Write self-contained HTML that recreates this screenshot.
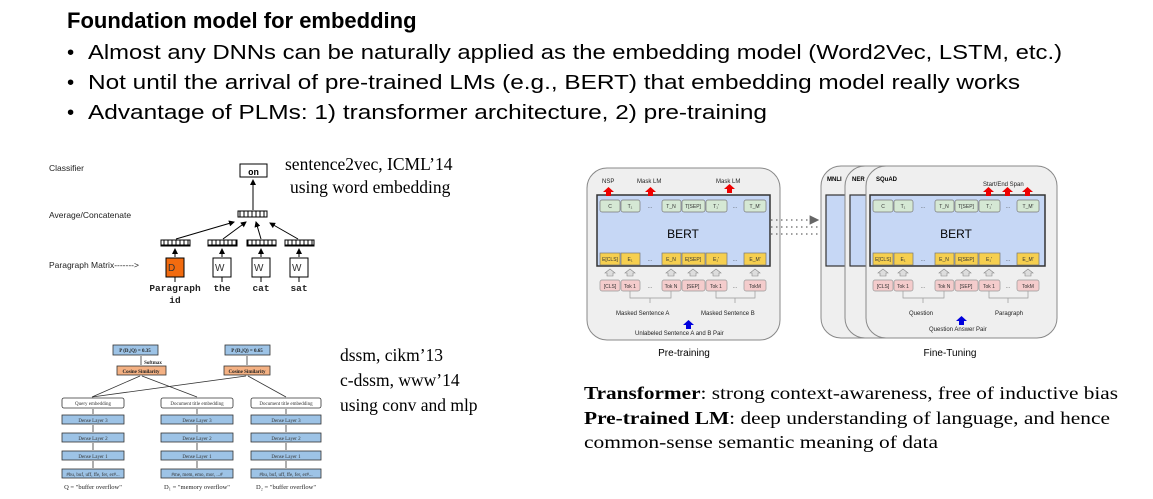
<!DOCTYPE html>
<html><head><meta charset="utf-8"><style>
body{margin:0;width:1153px;height:499px;background:#fff;overflow:hidden}
svg{display:block}
.s{font-family:"Liberation Sans",sans-serif}
.r{font-family:"Liberation Serif",serif}
.m{font-family:"Liberation Mono",monospace}
</style></head><body>
<svg width="1153" height="499" viewBox="0 0 1153 499" xmlns="http://www.w3.org/2000/svg">
<defs>
<marker id="a" markerWidth="6" markerHeight="6" refX="5" refY="3" orient="auto"><path d="M0,0L6,3L0,6z" fill="#000"/></marker>
<marker id="g" markerWidth="8" markerHeight="8" refX="7" refY="4" orient="auto"><path d="M0,0L8,4L0,8z" fill="#666"/></marker>
<pattern id="vec" width="4" height="7" patternUnits="userSpaceOnUse"><rect x="0" y="0" width="4" height="7" fill="#fff" stroke="#000" stroke-width="1"/></pattern>
</defs>
<!-- Title -->
<text x="67" y="28" class="s" font-size="22" font-weight="bold">Foundation model for embedding</text>
<g class="s" font-size="20.5" fill="#000">
<text x="67" y="59">•</text><text x="88" y="59" textLength="974" lengthAdjust="spacingAndGlyphs">Almost any DNNs can be naturally applied as the embedding model (Word2Vec, LSTM, etc.)</text>
<text x="67" y="89">•</text><text x="88" y="89" textLength="932" lengthAdjust="spacingAndGlyphs">Not until the arrival of pre-trained LMs (e.g., BERT) that embedding model really works</text>
<text x="67" y="119">•</text><text x="88" y="119" textLength="679" lengthAdjust="spacingAndGlyphs">Advantage of PLMs: 1) transformer architecture, 2) pre-training</text>
</g>

<!-- sentence2vec diagram -->
<g class="s" font-size="8.5" fill="#222">
<text x="49" y="171">Classifier</text>
<text x="49" y="218">Average/Concatenate</text>
<text x="49" y="268">Paragraph Matrix-------&gt;</text>
</g>
<rect x="240" y="164" width="27" height="13" fill="#fff" stroke="#000"/>
<text x="253.5" y="175" class="m" font-size="9" font-weight="bold" text-anchor="middle">on</text>
<rect x="238" y="211" width="29" height="6" fill="url(#vec)" stroke="#000"/>
<line x1="253" y1="210" x2="253" y2="180" stroke="#000" marker-end="url(#a)"/>
<rect x="161" y="240" width="29" height="6" fill="url(#vec)" stroke="#000"/>
<rect x="208" y="240" width="29" height="6" fill="url(#vec)" stroke="#000"/>
<rect x="247" y="240" width="29" height="6" fill="url(#vec)" stroke="#000"/>
<rect x="285" y="240" width="29" height="6" fill="url(#vec)" stroke="#000"/>
<line x1="176" y1="239" x2="234" y2="222" stroke="#000" marker-end="url(#a)"/>
<line x1="223" y1="239" x2="246" y2="222" stroke="#000" marker-end="url(#a)"/>
<line x1="261" y1="239" x2="256" y2="222" stroke="#000" marker-end="url(#a)"/>
<line x1="298" y1="239" x2="270" y2="223" stroke="#000" marker-end="url(#a)"/>
<line x1="175" y1="257" x2="175" y2="249" stroke="#000" marker-end="url(#a)"/>
<line x1="222" y1="257" x2="222" y2="249" stroke="#000" marker-end="url(#a)"/>
<line x1="261" y1="257" x2="261" y2="249" stroke="#000" marker-end="url(#a)"/>
<line x1="299" y1="257" x2="299" y2="249" stroke="#000" marker-end="url(#a)"/>
<rect x="166" y="258" width="18" height="19" fill="#f26b0f" stroke="#000"/>
<rect x="213" y="258" width="18" height="19" fill="#fff" stroke="#000"/>
<rect x="252" y="258" width="18" height="19" fill="#fff" stroke="#000"/>
<rect x="290" y="258" width="18" height="19" fill="#fff" stroke="#000"/>
<g class="s" font-size="10" fill="#333"><text x="168" y="271">D</text><text x="215" y="271">W</text><text x="254" y="271">W</text><text x="292" y="271">W</text></g>
<g stroke="#000"><line x1="175" y1="277" x2="175" y2="282"/><line x1="222" y1="277" x2="222" y2="282"/><line x1="261" y1="277" x2="261" y2="282"/><line x1="299" y1="277" x2="299" y2="282"/></g>
<g class="m" font-size="9.5" font-weight="bold" fill="#222" text-anchor="middle">
<text x="175" y="291">Paragraph</text><text x="175" y="303">id</text>
<text x="222" y="291">the</text><text x="261" y="291">cat</text><text x="299" y="291">sat</text>
</g>
<g class="r" font-size="17.5"><text x="285" y="170">sentence2vec, ICML’14</text><text x="290" y="193">using word embedding</text></g>

<!-- DSSM -->
<g stroke="#333" stroke-width="0.8" fill="none">
<line x1="92" y1="397" x2="140" y2="376"/><line x1="92" y1="397" x2="246" y2="376"/>
<line x1="197" y1="397" x2="142" y2="376"/><line x1="286" y1="397" x2="248" y2="376"/>
<line x1="141" y1="365" x2="141" y2="356"/><line x1="247" y1="365" x2="247" y2="356"/>
</g>
<g stroke="#333" stroke-width="0.8">
<rect x="113" y="345" width="45" height="10" fill="#9dc3e6"/>
<rect x="225" y="345" width="45" height="10" fill="#9dc3e6"/>
<rect x="117" y="366" width="49" height="9" fill="#f4b183"/>
<rect x="224" y="366" width="46" height="9" fill="#f4b183"/>
</g>
<g class="r" font-size="5" font-weight="bold" text-anchor="middle" fill="#222">
<text x="135" y="352">P (D₁|Q) = 0.35</text><text x="247" y="352">P (D₂|Q) = 0.65</text>
<text x="141" y="373">Cosine Similarity</text><text x="247" y="373">Cosine Similarity</text>
<text x="153" y="364">Softmax</text>
</g>
<g id="col" class="r" font-size="5" text-anchor="middle" fill="#333">
<g stroke="#333" stroke-width="0.8">
<rect x="62" y="398" width="62" height="10" fill="#fff" rx="2"/>
<rect x="62" y="415" width="62" height="9" fill="#9dc3e6"/>
<rect x="62" y="433" width="62" height="9" fill="#9dc3e6"/>
<rect x="62" y="451" width="62" height="9" fill="#9dc3e6"/>
<rect x="62" y="469" width="62" height="9" fill="#9dc3e6"/>
<line x1="93" y1="414" x2="93" y2="409"/><line x1="93" y1="432" x2="93" y2="425"/><line x1="93" y1="450" x2="93" y2="443"/><line x1="93" y1="468" x2="93" y2="461"/>
</g>
<text x="93" y="405">Query embedding</text><text x="93" y="422">Dense Layer 3</text><text x="93" y="440">Dense Layer 2</text><text x="93" y="458">Dense Layer 1</text><text x="93" y="476">#bu, buf, uff, ffe, fer, er#...</text>
</g>
<g class="r" font-size="5" text-anchor="middle" fill="#333">
<g stroke="#333" stroke-width="0.8">
<rect x="161" y="398" width="72" height="10" fill="#fff" rx="2"/>
<rect x="161" y="415" width="72" height="9" fill="#9dc3e6"/>
<rect x="161" y="433" width="72" height="9" fill="#9dc3e6"/>
<rect x="161" y="451" width="72" height="9" fill="#9dc3e6"/>
<rect x="161" y="469" width="72" height="9" fill="#9dc3e6"/>
<line x1="197" y1="414" x2="197" y2="409"/><line x1="197" y1="432" x2="197" y2="425"/><line x1="197" y1="450" x2="197" y2="443"/><line x1="197" y1="468" x2="197" y2="461"/>
</g>
<text x="197" y="405">Document title embedding</text><text x="197" y="422">Dense Layer 3</text><text x="197" y="440">Dense Layer 2</text><text x="197" y="458">Dense Layer 1</text><text x="197" y="476">#me, mem, emo, mor, ...#</text>
</g>
<g class="r" font-size="5" text-anchor="middle" fill="#333">
<g stroke="#333" stroke-width="0.8">
<rect x="251" y="398" width="70" height="10" fill="#fff" rx="2"/>
<rect x="251" y="415" width="70" height="9" fill="#9dc3e6"/>
<rect x="251" y="433" width="70" height="9" fill="#9dc3e6"/>
<rect x="251" y="451" width="70" height="9" fill="#9dc3e6"/>
<rect x="251" y="469" width="70" height="9" fill="#9dc3e6"/>
<line x1="286" y1="414" x2="286" y2="409"/><line x1="286" y1="432" x2="286" y2="425"/><line x1="286" y1="450" x2="286" y2="443"/><line x1="286" y1="468" x2="286" y2="461"/>
</g>
<text x="286" y="405">Document title embedding</text><text x="286" y="422">Dense Layer 3</text><text x="286" y="440">Dense Layer 2</text><text x="286" y="458">Dense Layer 1</text><text x="286" y="476">#bu, buf, uff, ffe, fer, er#...</text>
</g>
<g class="r" font-size="6.5" fill="#222" text-anchor="middle">
<text x="93" y="489">Q = "buffer overflow"</text><text x="197" y="489">D₁ = "memory overflow"</text><text x="286" y="489">D₂ = "buffer overflow"</text>
</g>
<g class="r" font-size="17.5"><text x="340" y="361">dssm, cikm’13</text><text x="340" y="386">c-dssm, www’14</text><text x="340" y="411">using conv and mlp</text></g>

<!-- BERT pretraining -->
<rect x="587" y="168" width="193" height="172" rx="20" fill="#efefef" stroke="#888"/>
<rect x="597" y="195" width="173" height="71" fill="#c6d7f5" stroke="#333" stroke-width="1.5"/>
<text x="683" y="238" class="s" font-size="12" text-anchor="middle">BERT</text>
<g fill="#d5e8d4" stroke="#777" stroke-width="0.7">
<rect x="600" y="200" width="20" height="12" rx="2"/><rect x="621" y="200" width="19" height="12" rx="2"/><rect x="662" y="200" width="19" height="12" rx="2"/><rect x="682" y="200" width="23" height="12" rx="2"/><rect x="706" y="200" width="21" height="12" rx="2"/><rect x="744" y="200" width="22" height="12" rx="2"/>
</g>
<g fill="#f6cf4f" stroke="#777" stroke-width="0.7">
<rect x="600" y="253" width="20" height="12"/><rect x="621" y="253" width="19" height="12"/><rect x="662" y="253" width="19" height="12"/><rect x="682" y="253" width="23" height="12"/><rect x="706" y="253" width="21" height="12"/><rect x="744" y="253" width="22" height="12"/>
</g>
<g fill="#f4cccc" stroke="#999" stroke-width="0.7">
<rect x="600" y="280" width="20" height="11" rx="2"/><rect x="621" y="280" width="19" height="11" rx="2"/><rect x="662" y="280" width="19" height="11" rx="2"/><rect x="682" y="280" width="23" height="11" rx="2"/><rect x="706" y="280" width="21" height="11" rx="2"/><rect x="744" y="280" width="22" height="11" rx="2"/>
</g>
<g class="s" font-size="5" text-anchor="middle" fill="#333">
<text x="610" y="208">C</text><text x="630" y="208">T₁</text><text x="650" y="208">...</text><text x="671" y="208">T_N</text><text x="693" y="208">T[SEP]</text><text x="716" y="208">T₁'</text><text x="735" y="208">...</text><text x="755" y="208">T_M'</text>
<text x="610" y="261">E[CLS]</text><text x="630" y="261">E₁</text><text x="650" y="261">...</text><text x="671" y="261">E_N</text><text x="693" y="261">E[SEP]</text><text x="716" y="261">E₁'</text><text x="735" y="261">...</text><text x="755" y="261">E_M'</text>
<text x="610" y="288">[CLS]</text><text x="630" y="288">Tok 1</text><text x="650" y="288">...</text><text x="671" y="288">Tok N</text><text x="693" y="288">[SEP]</text><text x="716" y="288">Tok 1</text><text x="735" y="288">...</text><text x="755" y="288">TokM</text>
</g>
<g fill="#ddd" stroke="#888" stroke-width="0.6">
<path d="M607,276h6v-3h2l-5,-4l-5,4h2z"/><path d="M627,276h6v-3h2l-5,-4l-5,4h2z"/><path d="M668,276h6v-3h2l-5,-4l-5,4h2z"/><path d="M690,276h6v-3h2l-5,-4l-5,4h2z"/><path d="M713,276h6v-3h2l-5,-4l-5,4h2z"/><path d="M752,276h6v-3h2l-5,-4l-5,4h2z"/>
</g>
<g stroke="#999" stroke-width="0.7" fill="none"><path d="M630,291v7h41v-7M650,298v5M716,291v7h39v-7M735,298v5"/></g>
<g fill="#e00"><path d="M606,196h5v-4h3l-5.5,-5l-5.5,5h3z"/><path d="M648,196h5v-4h3l-5.5,-5l-5.5,5h3z"/><path d="M727,193h5v-4h3l-5.5,-5l-5.5,5h3z"/></g>
<path d="M686,329h5v-4h3l-5.5,-5l-5.5,5h3z" fill="#00d"/>
<g class="s" font-size="6" fill="#222">
<text x="602" y="183">NSP</text><text x="637" y="183">Mask LM</text><text x="716" y="183">Mask LM</text>
<text x="616" y="315">Masked Sentence A</text><text x="701" y="315">Masked Sentence B</text>
<text x="635" y="335">Unlabeled Sentence A and B Pair</text>
</g>
<text x="684" y="356" class="s" font-size="10" text-anchor="middle">Pre-training</text>

<!-- dotted -->
<g stroke="#666" stroke-width="1.2" stroke-dasharray="1.5,3.5" fill="none">
<line x1="771" y1="220" x2="818" y2="220" marker-end="url(#g)"/>
<line x1="771" y1="227" x2="843" y2="227" marker-end="url(#g)"/>
<line x1="771" y1="234" x2="867" y2="234" marker-end="url(#g)"/>
</g>

<!-- Fine tuning -->
<rect x="821" y="166" width="150" height="172" rx="20" fill="#efefef" stroke="#888"/>
<rect x="826" y="195" width="40" height="71" fill="#c6d7f5" stroke="#333" stroke-width="1.2"/>
<rect x="845" y="166" width="150" height="172" rx="20" fill="#efefef" stroke="#888"/>
<rect x="850" y="195" width="40" height="71" fill="#c6d7f5" stroke="#333" stroke-width="1.2"/>
<rect x="866" y="166" width="191" height="172" rx="20" fill="#efefef" stroke="#888"/>
<g class="s" font-size="6" font-weight="bold"><text x="827" y="181">MNLI</text><text x="852" y="181">NER</text><text x="876" y="181">SQuAD</text></g>
<g transform="translate(273,0)">
<rect x="597" y="195" width="175" height="71" fill="#c6d7f5" stroke="#333" stroke-width="1.5"/>
<text x="683" y="238" class="s" font-size="12" text-anchor="middle">BERT</text>
<g fill="#d5e8d4" stroke="#777" stroke-width="0.7">
<rect x="600" y="200" width="20" height="12" rx="2"/><rect x="621" y="200" width="19" height="12" rx="2"/><rect x="662" y="200" width="19" height="12" rx="2"/><rect x="682" y="200" width="23" height="12" rx="2"/><rect x="706" y="200" width="21" height="12" rx="2"/><rect x="744" y="200" width="22" height="12" rx="2"/>
</g>
<g fill="#f6cf4f" stroke="#777" stroke-width="0.7">
<rect x="600" y="253" width="20" height="12"/><rect x="621" y="253" width="19" height="12"/><rect x="662" y="253" width="19" height="12"/><rect x="682" y="253" width="23" height="12"/><rect x="706" y="253" width="21" height="12"/><rect x="744" y="253" width="22" height="12"/>
</g>
<g fill="#f4cccc" stroke="#999" stroke-width="0.7">
<rect x="600" y="280" width="20" height="11" rx="2"/><rect x="621" y="280" width="19" height="11" rx="2"/><rect x="662" y="280" width="19" height="11" rx="2"/><rect x="682" y="280" width="23" height="11" rx="2"/><rect x="706" y="280" width="21" height="11" rx="2"/><rect x="744" y="280" width="22" height="11" rx="2"/>
</g>
<g class="s" font-size="5" text-anchor="middle" fill="#333">
<text x="610" y="208">C</text><text x="630" y="208">T₁</text><text x="650" y="208">...</text><text x="671" y="208">T_N</text><text x="693" y="208">T[SEP]</text><text x="716" y="208">T₁'</text><text x="735" y="208">...</text><text x="755" y="208">T_M'</text>
<text x="610" y="261">E[CLS]</text><text x="630" y="261">E₁</text><text x="650" y="261">...</text><text x="671" y="261">E_N</text><text x="693" y="261">E[SEP]</text><text x="716" y="261">E₁'</text><text x="735" y="261">...</text><text x="755" y="261">E_M'</text>
<text x="610" y="288">[CLS]</text><text x="630" y="288">Tok 1</text><text x="650" y="288">...</text><text x="671" y="288">Tok N</text><text x="693" y="288">[SEP]</text><text x="716" y="288">Tok 1</text><text x="735" y="288">...</text><text x="755" y="288">TokM</text>
</g>
<g fill="#ddd" stroke="#888" stroke-width="0.6">
<path d="M607,276h6v-3h2l-5,-4l-5,4h2z"/><path d="M627,276h6v-3h2l-5,-4l-5,4h2z"/><path d="M668,276h6v-3h2l-5,-4l-5,4h2z"/><path d="M690,276h6v-3h2l-5,-4l-5,4h2z"/><path d="M713,276h6v-3h2l-5,-4l-5,4h2z"/><path d="M752,276h6v-3h2l-5,-4l-5,4h2z"/>
</g>
<g stroke="#999" stroke-width="0.7" fill="none"><path d="M630,291v7h41v-7M650,298v5M716,291v7h39v-7M735,298v5"/></g>
<g fill="#e00"><path d="M713,196h5v-4h3l-5.5,-5l-5.5,5h3z"/><path d="M732,196h5v-4h3l-5.5,-5l-5.5,5h3z"/><path d="M752,196h5v-4h3l-5.5,-5l-5.5,5h3z"/></g>
<path d="M686,325h5v-4h3l-5.5,-5l-5.5,5h3z" fill="#00d"/>
<g class="s" font-size="6" fill="#222">
<text x="710" y="186">Start/End Span</text>
<text x="636" y="315">Question</text><text x="722" y="315">Paragraph</text>
<text x="656" y="331">Question Answer Pair</text>
</g>
</g>
<text x="950" y="356" class="s" font-size="10" text-anchor="middle">Fine-Tuning</text>

<!-- caption -->
<g class="r" font-size="17.5">
<text x="584" y="399" textLength="534" lengthAdjust="spacingAndGlyphs"><tspan font-weight="bold">Transformer</tspan>: strong context-awareness, free of inductive bias</text>
<text x="584" y="424" textLength="526" lengthAdjust="spacingAndGlyphs"><tspan font-weight="bold">Pre-trained LM</tspan>: deep understanding of language, and hence</text>
<text x="584" y="448" textLength="354" lengthAdjust="spacingAndGlyphs">common-sense semantic meaning of data</text>
</g>
</svg>
</body></html>
